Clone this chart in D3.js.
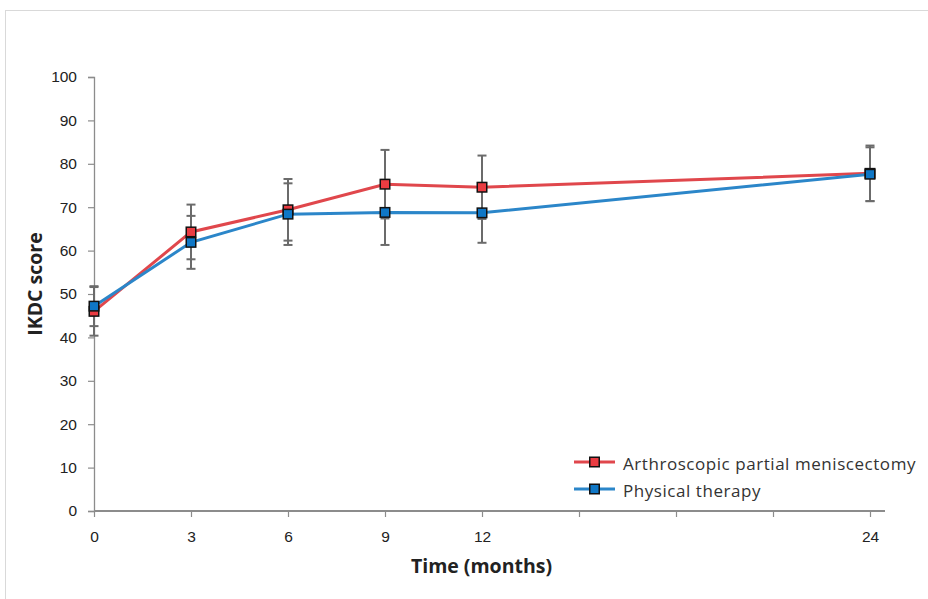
<!DOCTYPE html>
<html>
<head>
<meta charset="utf-8">
<script src="https://cdn.jsdelivr.net/npm/d3@7"></script>
<style>
  html, body { margin: 0; padding: 0; background: #fff; }
  svg { display: block; font-family: "Open Sans", "Noto Sans", sans-serif; }
</style>
</head>
<body>
<svg id="chart" width="928" height="599"></svg>
<script>
// IKDC score over follow-up, mean ± SD per group
const months = [0, 3, 6, 9, 12, 24];
const apmMean = [46.0, 64.3, 69.4, 75.3, 74.6, 77.8];
const apmSD   = [5.6, 6.3, 7.1, 7.9, 7.3, 6.4];
const ptMean  = [47.2, 61.9, 68.4, 68.8, 68.7, 77.6];
const ptSD    = [4.6, 6.1, 7.1, 7.5, 6.9, 6.2];
const seriesNames = ["Arthroscopic partial meniscectomy", "Physical therapy"];
const xTicks = [0, 3, 6, 9, 12, 15, 18, 21, 24];
const xTickLabels = ["0", "3", "6", "9", "12", "", "", "", "24"];
const yTicks = [0, 10, 20, 30, 40, 50, 60, 70, 80, 90, 100];

const svg = d3.select("#chart");

// outer frame
svg.append("rect")
  .attr("x", 5.5).attr("y", 10.5)
  .attr("width", 940).attr("height", 620)
  .attr("fill", "none").attr("stroke", "#d9d9d9").attr("stroke-width", 1);

const x = d3.scaleLinear().domain([0, 24]).range([94, 870]);
const y = d3.scaleLinear().domain([0, 100]).range([511, 77]);

const axisColor = "#8c8c8c";

// y axis
const yAxis = svg.append("g")
  .attr("transform", "translate(94,0)")
  .call(d3.axisLeft(y).tickValues(yTicks).tickSize(6).tickPadding(11));
yAxis.select(".domain").attr("stroke", axisColor).attr("stroke-width", 1.3);
yAxis.selectAll(".tick line").attr("stroke", axisColor).attr("stroke-width", 1.2);
yAxis.selectAll(".tick text").attr("fill", "#222").style("font-size", "15.5px");

// x axis
const xAxis = svg.append("g")
  .attr("transform", "translate(0,511)")
  .call(d3.axisBottom(x).tickValues(xTicks).tickFormat((d, i) => xTickLabels[i])
    .tickSizeInner(6).tickSizeOuter(0).tickPadding(14));
xAxis.select(".domain").attr("stroke", axisColor).attr("stroke-width", 2)
  .attr("d", `M${x(0)},0H885`);
xAxis.selectAll(".tick line").attr("stroke", axisColor).attr("stroke-width", 1.2);
xAxis.selectAll(".tick text").attr("fill", "#222").style("font-size", "15.5px");

// axis titles
svg.append("text")
  .attr("x", x(12) - 0.5).attr("y", 573)
  .attr("text-anchor", "middle")
  .attr("fill", "#222").style("font-size", "19.5px").style("font-weight", "bold")
  .text("Time (months)");
svg.append("text")
  .attr("transform", "translate(41.5,284) rotate(-90)")
  .attr("text-anchor", "middle")
  .attr("fill", "#222").style("font-size", "19.5px").style("font-weight", "bold")
  .text("IKDC score");

const series = [
  { name: seriesNames[0], mean: apmMean, sd: apmSD, line: "#e0474c", fill: "#ea3c42" },
  { name: seriesNames[1], mean: ptMean, sd: ptSD, line: "#2b86c9", fill: "#0f77c6" }
];

// error bars
const capW = 4.5;
series.forEach(s => {
  const g = svg.append("g").attr("stroke", "#6b6b6b").attr("stroke-width", 2);
  months.forEach((m, i) => {
    const cx = x(m), top = y(s.mean[i] + s.sd[i]), bot = y(s.mean[i] - s.sd[i]);
    g.append("line").attr("x1", cx).attr("x2", cx).attr("y1", top).attr("y2", bot);
    g.append("line").attr("x1", cx - capW).attr("x2", cx + capW).attr("y1", top).attr("y2", top);
    g.append("line").attr("x1", cx - capW).attr("x2", cx + capW).attr("y1", bot).attr("y2", bot);
  });
});

const lineGen = d3.line().x((d, i) => x(months[i])).y(d => y(d));

// lines and markers
const mk = 9.5;
series.forEach(s => {
  svg.append("path")
    .datum(s.mean)
    .attr("d", lineGen)
    .attr("fill", "none").attr("stroke", s.line).attr("stroke-width", 3);
});
series.forEach(s => {
  svg.append("g").selectAll("rect")
    .data(s.mean)
    .join("rect")
    .attr("x", (d, i) => x(months[i]) - mk / 2)
    .attr("y", d => y(d) - mk / 2)
    .attr("width", mk).attr("height", mk)
    .attr("fill", s.fill).attr("stroke", "#111").attr("stroke-width", 1.5);
});

// legend
const legend = svg.append("g");
series.forEach((s, i) => {
  const ly = 462 + i * 27;
  legend.append("line")
    .attr("x1", 574).attr("x2", 615).attr("y1", ly).attr("y2", ly)
    .attr("stroke", s.line).attr("stroke-width", 3);
  legend.append("rect")
    .attr("x", 594.5 - mk / 2).attr("y", ly - mk / 2)
    .attr("width", mk).attr("height", mk)
    .attr("fill", s.fill).attr("stroke", "#111").attr("stroke-width", 1.5);
  legend.append("text")
    .attr("x", 623).attr("y", ly + 8)
    .attr("fill", "#333").style("font-size", "17px").style("letter-spacing", "0.55px")
    .text(s.name);
});
</script>
</body>
</html>
